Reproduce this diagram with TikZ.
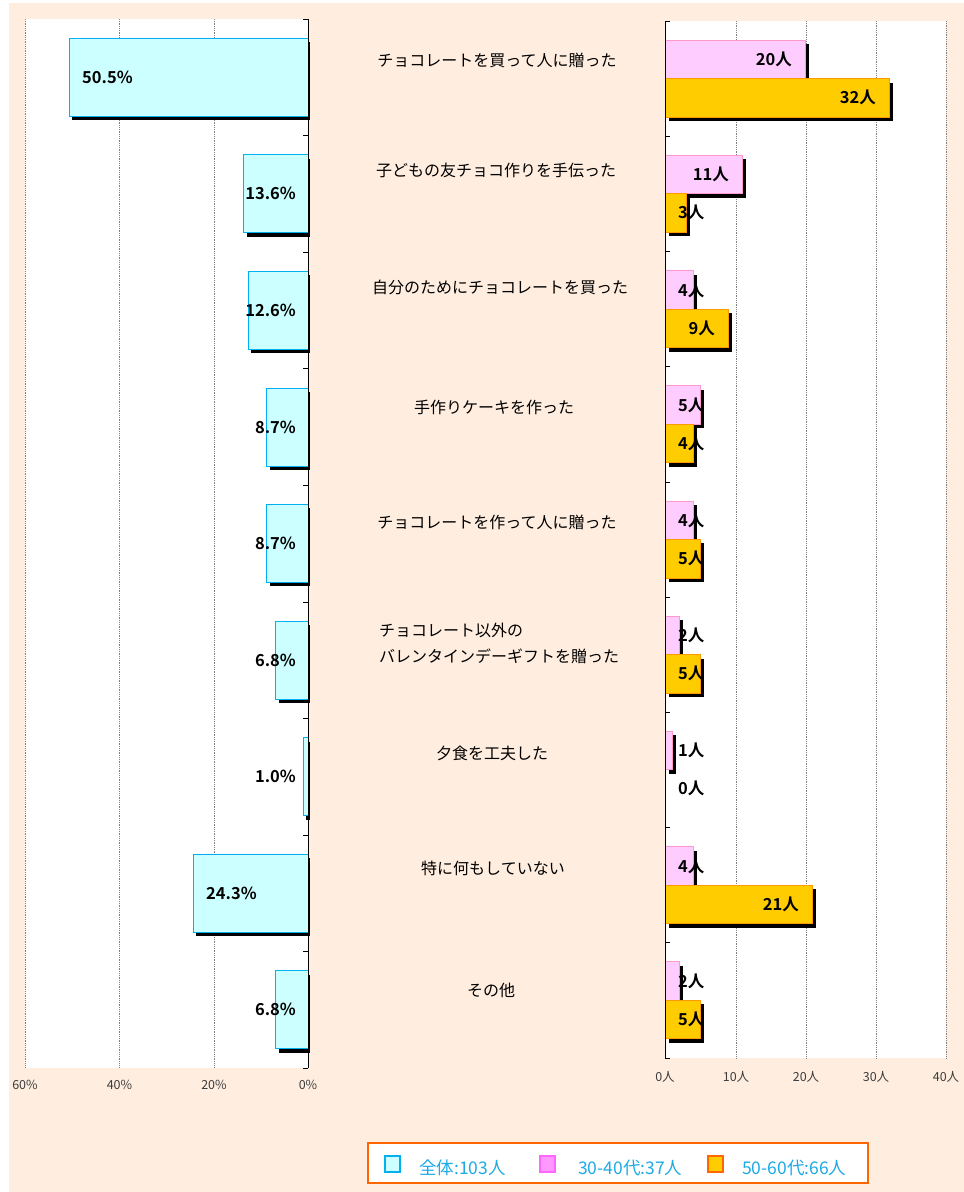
\documentclass[tikz,border=0pt]{standalone}
\usepackage{fontspec}
\setmainfont{Noto Sans CJK JP}[BoldFont=* Bold]

\definecolor{peach}{RGB}{255,238,224}
\definecolor{allfill}{RGB}{204,255,255}
\definecolor{allline}{RGB}{0,176,240}
\definecolor{pinkfill}{RGB}{255,204,255}
\definecolor{pinkline}{RGB}{255,153,204}
\definecolor{pinkmark}{RGB}{255,153,255}
\definecolor{pinkmarkline}{RGB}{255,102,255}
\definecolor{orangefill}{RGB}{255,204,0}
\definecolor{orangeline}{RGB}{255,153,0}
\definecolor{legline}{RGB}{255,102,0}
\definecolor{legtext}{RGB}{30,170,230}
\definecolor{axistext}{RGB}{60,60,60}

\begin{document}
\begin{tikzpicture}[x=1pt, y=-1pt,
    grid/.style={gray, densely dotted, line width=0.8pt},
    allbar/.style={fill=allfill, draw=allline, line width=0.8pt},
    pinkbar/.style={fill=pinkfill, draw=pinkline, line width=0.8pt},
    orangebar/.style={fill=orangefill, draw=orangeline, line width=0.8pt},
    value/.style={font=\bfseries\fontsize{16.5}{20}\selectfont, inner sep=0pt},
    catlabel/.style={font=\fontsize{16}{26}\selectfont, inner sep=0pt},
    ticklabel/.style={font=\fontsize{12.5}{14}\selectfont, text=axistext, inner sep=0pt},
    legendlabel/.style={font=\fontsize{17.5}{20}\selectfont, text=legtext, inner sep=0pt, anchor=west}]
  \useasboundingbox (0,0) rectangle (964,1192);
  \fill[peach] (9,3) rectangle (964,1192);

  % left chart: share of all answers
  \fill[white] (25,19) rectangle (308,1068);
  \foreach \x in {25,119.5,214} \draw[grid] (\x,19) -- (\x,1068);
  \foreach \v/\anc/\lx [count=\i] in {50.5/west/82, 13.6/east/296, 12.6/east/296,
      8.7/east/296, 8.7/east/296, 6.8/east/296, 1.0/east/296, 24.3/west/206, 6.8/east/296} {
    \pgfmathsetmacro\yc{19+116.55*(\i-0.5)}
    \pgfmathsetmacro\xl{308-4.725*\v}
    \fill[black] (\xl+3,\yc-35) rectangle (310,\yc+43);
    \draw[allbar] (\xl,\yc-39) rectangle (308,\yc+39);
    \node[value, anchor=\anc] (pct\i) at (\lx,\yc) {\v\%};
  }
  \draw[black, line width=0.8pt] (308,19) -- (308,1068);
  \foreach \k in {0,...,9} \draw[black] (303,19+116.55*\k) -- (308,19+116.55*\k);
  \node[ticklabel] (p60) at (25,1085) {60\%};
  \node[ticklabel] (p40) at (119.5,1085) {40\%};
  \node[ticklabel] (p20) at (214,1085) {20\%};
  \node[ticklabel] (p0) at (308,1085) {0\%};

  % right chart: counts by age group
  \fill[white] (665,21) rectangle (946,1058);
  \foreach \x in {736,806,876,946} \draw[grid] (\x,21) -- (\x,1058);
  \foreach \a/\b [count=\i] in {20/32, 11/3, 4/9, 5/4, 4/5, 2/5, 1/0, 4/21, 2/5} {
    \pgfmathsetmacro\yc{21+115.2*(\i-0.5)}
    \pgfmathsetmacro\xa{665+7*\a}
    \pgfmathsetmacro\xb{665+7*\b}
    \fill[black] (669,\yc-34.5) rectangle (\xa+4,\yc+4);
    \draw[pinkbar] (665,\yc-38.5) rectangle (\xa,\yc);
    \ifnum\b>0
      \fill[black] (669,\yc+4) rectangle (\xb+4,\yc+42.5);
      \draw[orangebar] (665,\yc) rectangle (\xb,\yc+38.5);
    \fi
    \ifnum\a>8
      \node[value, anchor=east] (young\i) at (\xa-13,\yc-19) {\a 人};
    \else
      \node[value, anchor=west] (young\i) at (678,\yc-19) {\a 人};
    \fi
    \ifnum\b>8
      \node[value, anchor=east] (old\i) at (\xb-13,\yc+19) {\b 人};
    \else
      \node[value, anchor=west] (old\i) at (678,\yc+19) {\b 人};
    \fi
  }
  \draw[black, line width=0.8pt] (665,21) -- (665,1058);
  \foreach \k in {0,...,9} \draw[black] (665,21+115.2*\k) -- (670,21+115.2*\k);
  \node[ticklabel] (n0) at (665,1077) {0人};
  \node[ticklabel] (n10) at (736,1077) {10人};
  \node[ticklabel] (n20) at (806,1077) {20人};
  \node[ticklabel] (n30) at (876,1077) {30人};
  \node[ticklabel] (n40) at (946,1077) {40人};

  % answers
  \node[catlabel] (cat1) at (497,60) {チョコレートを買って人に贈った};
  \node[catlabel] (cat2) at (496,170) {子どもの友チョコ作りを手伝った};
  \node[catlabel] (cat3) at (500,287) {自分のためにチョコレートを買った};
  \node[catlabel] (cat4) at (494,407) {手作りケーキを作った};
  \node[catlabel] (cat5) at (497,522) {チョコレートを作って人に贈った};
  \node[catlabel, align=left, anchor=west] (cat6) at (379,643) {チョコレート以外の\\バレンタインデーギフトを贈った};
  \node[catlabel] (cat7) at (492,753) {夕食を工夫した};
  \node[catlabel] (cat8) at (493,868) {特に何もしていない};
  \node[catlabel] (cat9) at (491,990) {その他};

  % legend
  \draw[legline, fill=white, line width=2pt] (368,1143) rectangle (868,1183);
  \draw[allline, fill=allfill, line width=1.5pt] (385,1156) rectangle (400,1172);
  \node[legendlabel] (legall) at (419,1168) {全体:103人};
  \draw[pinkmarkline, fill=pinkmark, line width=1.5pt] (540,1156) rectangle (555,1172);
  \node[legendlabel] (legyoung) at (578,1168) {30-40代:37人};
  \draw[legline, fill=orangefill, line width=1.5pt] (708,1156) rectangle (723,1172);
  \node[legendlabel] (legold) at (742,1168) {50-60代:66人};
\end{tikzpicture}
\end{document}
